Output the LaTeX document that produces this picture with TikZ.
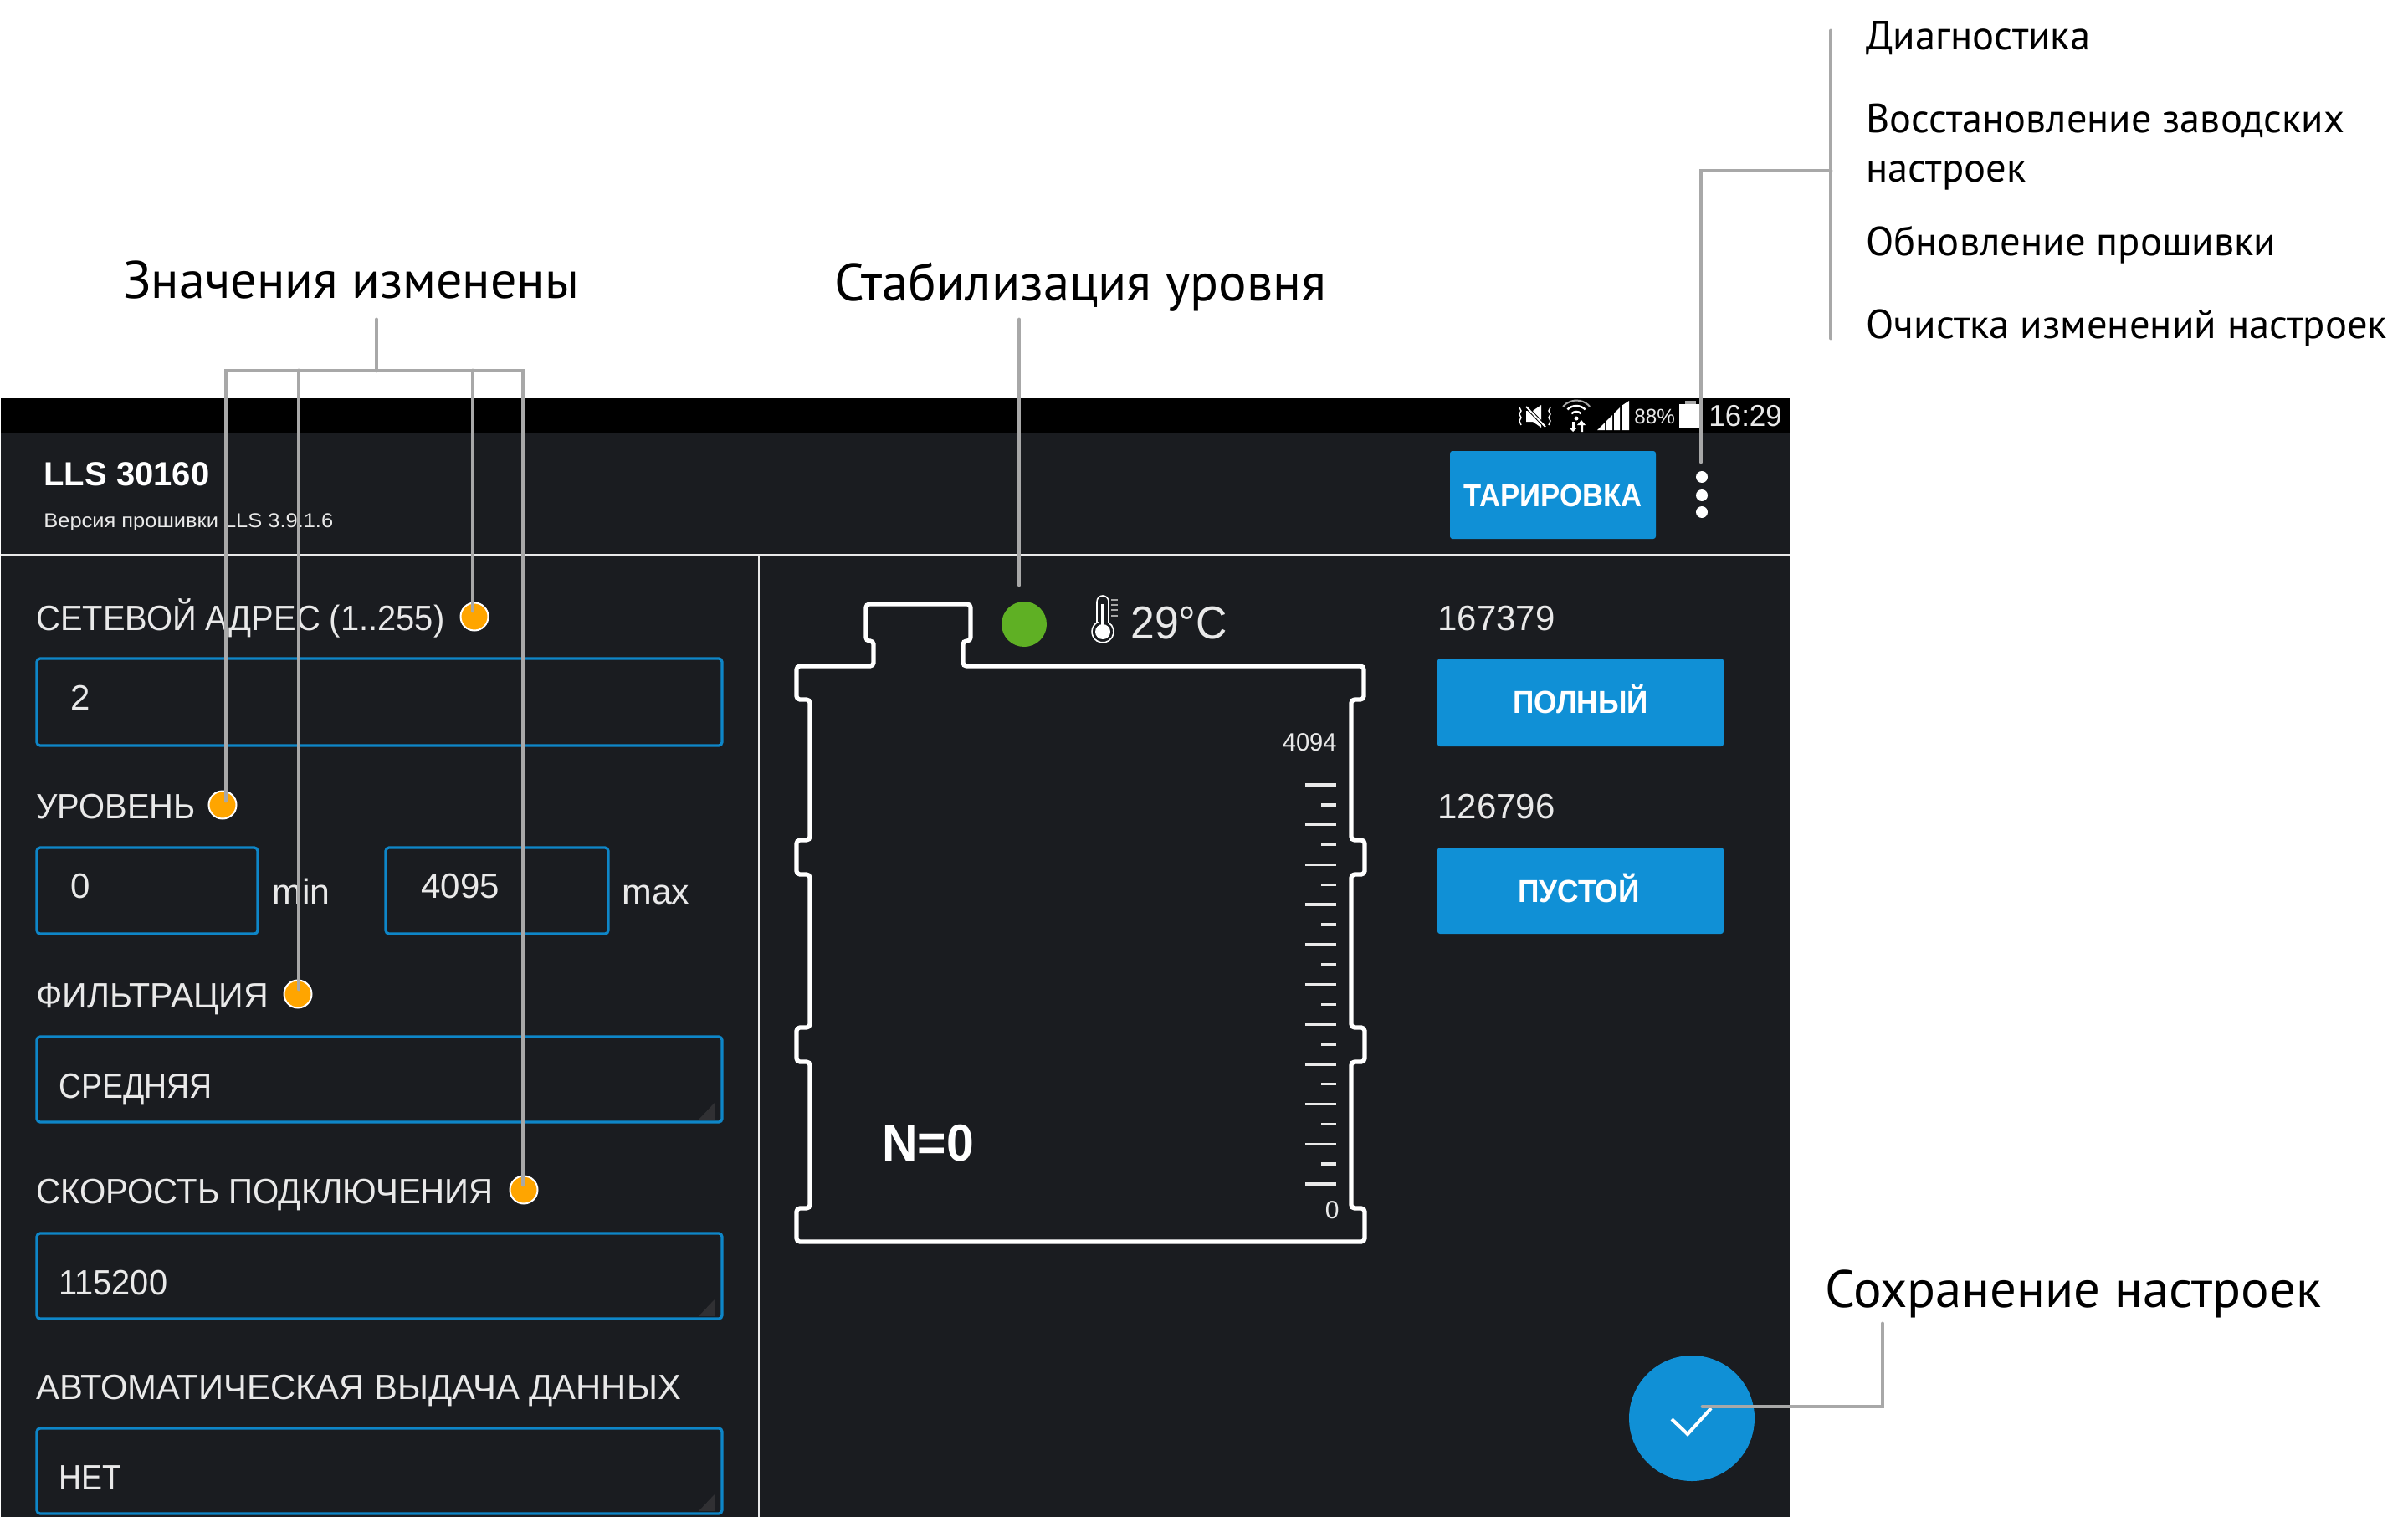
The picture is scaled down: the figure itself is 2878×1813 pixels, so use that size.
\documentclass[tikz,border=0pt]{standalone}
\usepackage{graphicx}
\usepackage{fontspec}
\setmainfont{PT Sans}
\newfontfamily\ui{Liberation Sans}
\newfontfamily\ann{PT Sans}
\definecolor{scr}{HTML}{1A1C20}
\definecolor{btn}{HTML}{1090D6}
\definecolor{fld}{HTML}{0E86C8}
\definecolor{org}{HTML}{FFA500}
\definecolor{grn}{HTML}{5FB024}
\definecolor{lead}{HTML}{A8A8A8}
\definecolor{txt}{HTML}{E9E9E9}
\definecolor{grip}{HTML}{303033}
\newcommand\fs[1]{\fontsize{#1}{#1}\selectfont}
\newcommand\sx[2]{\scalebox{#1}[1]{#2}}
\tikzset{
 x=0.5pt,y=-0.5pt,
 leader/.style={draw=lead,line width=2.4pt,line join=miter,line cap=round},
 annot/.style={font=\ann\fs{31.4},text=black,inner sep=0,anchor=base west},
 menuitem/.style={font=\ann\fs{24.3},text=black,inner sep=0,anchor=base west},
 uilabel/.style={font=\ui\fs{21},text=txt,inner sep=0,anchor=base west},
 btntext/.style={font=\ui\bfseries\fs{19},text=white,inner sep=0,anchor=base},
 field/.style={draw=fld,line width=1.6pt,rounded corners=2pt},
 button/.style={fill=btn,rounded corners=1.5pt},
 dot/.style={circle,fill=org,draw=white,line width=1pt,minimum size=16.5pt,inner sep=0},
 tank/.style={draw=white,line width=2.6pt,rounded corners=2pt},
 tick/.style={draw=txt,line width=1.7pt},
}
\begin{document}
\begin{tikzpicture}
\useasboundingbox (0,0) rectangle (2878,1813);
\fill[white] (0,0) rectangle (2878,1813);
% screen
\fill[scr] (1,476) rectangle (2139,1813);
\fill[black] (1,476) rectangle (2139,517);
\draw[txt,line width=1pt] (1,663) -- (2139,663);
\draw[txt,line width=1pt] (907,663) -- (907,1813);
% status bar
\begin{scope}[white]
 % mute
 \fill (1824,491) -- (1832,491) -- (1842,484) -- (1842,511) -- (1832,504) -- (1824,504) -- cycle;
 \draw[black,line width=2pt] (1822,484) -- (1848,511);
 \draw[line width=1pt] (1824,486) -- (1847,510);
 \draw[line width=.7pt] (1816,487) -- (1818,491) -- (1816,495) -- (1818,499) -- (1816,503) -- (1818,508);
 \draw[line width=.7pt] (1853,487) -- (1851,491) -- (1853,495) -- (1851,499) -- (1853,503) -- (1851,508);
 % wifi
 \draw[line width=1pt,draw=lead] (1868,486) arc[start angle=220,end angle=320,radius=21];
 \draw[line width=1.2pt] (1873.4,489.4) arc[start angle=225,end angle=315,radius=15];
 \draw[line width=1.2pt] (1878.3,494.3) arc[start angle=225,end angle=315,radius=8];
 \fill (1884,500) circle[radius=2.5];
 \fill (1879,504) -- (1879,511) -- (1875,511) -- (1880,516) -- (1885,511) -- (1882,511) -- (1882,504) -- cycle;
 \fill (1889,516) -- (1889,508) -- (1885,508) -- (1890,502) -- (1895,508) -- (1892,508) -- (1892,516) -- cycle;
 % signal
 \fill (1909,514) -- (1918,505) -- (1918,514) -- cycle;
 \fill (1920,514) -- (1920,503) -- (1927,496) -- (1927,514) -- cycle;
 \fill (1929,514) -- (1929,494) -- (1936,487) -- (1936,514) -- cycle;
 \fill (1938,514) -- (1938,485) -- (1947,479) -- (1947,514) -- cycle;
 % battery
 \fill (2007,483) rectangle (2034,512);
 \fill[lead] (2014,479) rectangle (2027,483);
\end{scope}
\node[font=\ui\fs{12.5},text=txt,inner sep=0,anchor=base west] (batt) at (1953,506) {\sx{.97}{88\%}};
\node[font=\ui\fs{18},text=txt,inner sep=0,anchor=base west] (clock) at (2042,509) {\sx{.97}{16:29}};
% header
\node[font=\ui\bfseries\fs{20},text=white,inner sep=0,anchor=base west] (title) at (52,580) {LLS 30160};
\begin{scope}
 \clip (40,600) rectangle (500,632);
 \node[font=\ui\fs{12},text=txt,inner sep=0,anchor=base west] (fw) at (52,630) {\sx{1.06}{Версия прошивки LLS 3.9.1.6}};
\end{scope}
\path[button] (1733,539) rectangle (1979,644);
\node[btntext] (tar) at (1856,605) {\sx{.913}{ТАРИРОВКА}};
\foreach \n/\y in {a/570,b/592,c/612}
  \node[circle,fill=white,minimum size=7pt,inner sep=0] (menu\n) at (2034,\y) {};
% fields
\node[uilabel] (l1) at (43,753) {\sx{.95}{СЕТЕВОЙ АДРЕС (1..255)}};
\draw[field] (44,787) rectangle (863,891);
\node[uilabel] (v1) at (84,848) {2};
\node[uilabel] (l2) at (43,978) {\sx{.95}{УРОВЕНЬ}};
\draw[field] (44,1013) rectangle (308,1116);
\node[uilabel] (v2) at (84,1073) {0};
\node[uilabel] (mn) at (325,1080) {\sx{1.02}{min}};
\draw[field] (461,1013) rectangle (727,1116);
\node[uilabel] (v3) at (503,1073) {4095};
\node[uilabel] (mx) at (743,1080) {\sx{1.02}{max}};
\node[uilabel] (l3) at (43,1204) {\sx{.98}{ФИЛЬТРАЦИЯ}};
\draw[field] (44,1239) rectangle (863,1341);
\node[uilabel] (v4) at (70,1312) {\sx{.89}{СРЕДНЯЯ}};
\node[uilabel] (l4) at (43,1438) {\sx{.957}{СКОРОСТЬ ПОДКЛЮЧЕНИЯ}};
\draw[field] (44,1474) rectangle (863,1576);
\node[uilabel] (v5) at (70,1547) {\sx{.947}{115200}};
\node[uilabel] (l5) at (43,1672) {\sx{.995}{АВТОМАТИЧЕСКАЯ ВЫДАЧА ДАННЫХ}};
\draw[field] (44,1707) rectangle (863,1809);
\node[uilabel] (v6) at (70,1780) {\sx{.89}{НЕТ}};
\foreach \b in {1341,1576,1809}
  \fill[grip] (854,\b-23) -- (854,\b-3) -- (835,\b-3) -- cycle;
% right column
\node[uilabel] (c1) at (1718,753) {167379};
\path[button] (1718,787) rectangle (2060,892);
\node[btntext] (full) at (1889,852) {\sx{.927}{ПОЛНЫЙ}};
\node[uilabel] (c2) at (1718,978) {126796};
\path[button] (1718,1013) rectangle (2060,1116);
\node[btntext] (empty) at (1887,1078) {\sx{.93}{ПУСТОЙ}};
% tank
\draw[tank] (952,796) -- (1044,796) -- (1044,766) -- (1035,766) -- (1035,722) -- (1160,722) -- (1160,766) -- (1151,766) -- (1151,796)
 -- (1630,796) -- (1630,836) -- (1615,836) -- (1615,1004) -- (1631,1004) -- (1631,1045) -- (1615,1045) -- (1615,1228) -- (1631,1228) -- (1631,1269) -- (1615,1269) -- (1615,1444) -- (1631,1444) -- (1631,1484)
 -- (952,1484) -- (952,1444) -- (968,1444) -- (968,1269) -- (952,1269) -- (952,1228) -- (968,1228) -- (968,1045) -- (952,1045) -- (952,1004) -- (968,1004) -- (968,836) -- (952,836) -- cycle;
\foreach \i in {0,2,...,20} \draw[tick] (1560,938+23.85*\i) -- (1597,938+23.85*\i);
\foreach \i in {1,3,...,19} \draw[tick] (1579,938+23.85*\i) -- (1597,938+23.85*\i);
\node[font=\ui\fs{15},text=txt,inner sep=0,anchor=base east] (s1) at (1598,897) {\sx{.97}{4094}};
\node[font=\ui\fs{15},text=txt,inner sep=0,anchor=base east] (s0) at (1601,1456) {0};
\node[font=\ui\bfseries\fs{31},text=white,inner sep=0,anchor=base] (n0) at (1109,1387) {\sx{.95}{N=0}};
\node[circle,fill=grn,minimum size=27pt,inner sep=0] (stab) at (1224,746) {};
% thermometer
\draw[white,line width=.8pt] (1311,744) -- (1311,719) arc[start angle=180,end angle=360,radius=7] -- (1325,744) arc[start angle=-57.5,end angle=237.5,radius=13] -- cycle;
\fill[white] (1318,755) circle[radius=9];
\draw[white,line width=1.6pt] (1318,722) -- (1318,750);
\foreach \y in {717,723,729,736} \draw[lead,line width=.9pt] (1328,\y) -- (1336,\y);
\node[font=\ui\fs{27.5},text=txt,inner sep=0,anchor=base west] (temp) at (1351,763) {\sx{.94}{29°C}};
% save button
\node[circle,fill=btn,minimum size=75pt,inner sep=0] (save) at (2022,1695) {};
\draw[white,line width=2pt,line join=miter] (1998,1696) -- (2017,1714) -- (2045,1683);
% dots
\node[dot] (d1) at (567,737) {};
\node[dot] (d2) at (266,962) {};
\node[dot] (d3) at (356,1188) {};
\node[dot] (d4) at (626,1422) {};
% annotations
\node[annot] (a1) at (147,357) {\sx{.987}{Значения изменены}};
\node[annot] (a2) at (997,359) {Стабилизация уровня};
\node[annot] (a3) at (2181,1562) {Сохранение настроек};
\node[menuitem] (m1) at (2230,60) {Диагностика};
\node[menuitem] (m2) at (2230,159) {\sx{.995}{Восстановление заводских}};
\node[menuitem] (m3) at (2230,218) {настроек};
\node[menuitem] (m4) at (2230,306) {Обновление прошивки};
\node[menuitem] (m5) at (2230,404) {Очистка изменений настроек};
% leaders
\coordinate (s) at (450,382);
\coordinate (j) at (450,443);
\coordinate (e1) at (565,730);
\coordinate (e2) at (270,957);
\coordinate (e3) at (357,1182);
\coordinate (e4) at (625,1416);
\draw[leader] (s) -- (j);
\draw[leader] (e2) -- (e2 |- j) -- (e4 |- j) -- (e4);
\draw[leader] (e1) -- (e1 |- j);
\draw[leader] (e3) -- (e3 |- j);
\coordinate (b0) at (2188,37);
\coordinate (b1) at (2188,404);
\coordinate (bm) at (2188,204);
\coordinate (me) at (2033,552);
\draw[leader] (b0) -- (b1);
\draw[leader] (bm) -- (me |- bm) -- (me);
\coordinate (st1) at (1218,382);
\coordinate (st2) at (1218,699);
\draw[leader] (st1) -- (st2);
\coordinate (sv1) at (2035,1681);
\coordinate (sv2) at (2250,1681);
\coordinate (sv3) at (2250,1582);
\draw[leader] (sv1) -- (sv2) -- (sv3);
\end{tikzpicture}
\end{document}
